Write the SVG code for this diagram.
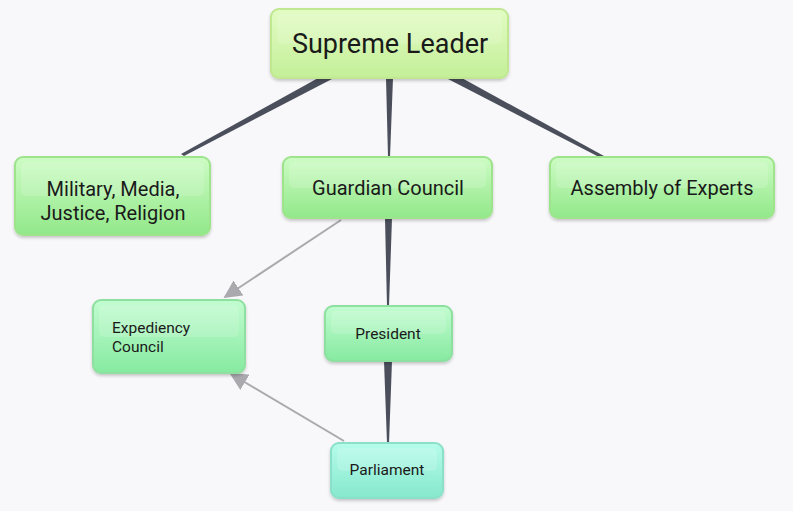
<svg xmlns="http://www.w3.org/2000/svg" width="793" height="511" viewBox="0 0 793 511">
<defs>
<style>
text{font-family:Roboto,"Liberation Sans",sans-serif;fill:#1a1a1a}
.n{stroke-width:2;filter:url(#sh)}
.g{fill:url(#gG);stroke:#9ee48c}
.sl{fill:url(#gS);stroke:#bfe890}
.m{fill:url(#gM);stroke:#8ee0a0}
.c{fill:url(#gC);stroke:#8ae0c8}
.hl{fill:#ffffff;opacity:0.15}
.w{fill:#4b4f5c}
.a{stroke:#a9a9ae;stroke-width:2;fill:none}
</style>
<linearGradient id="gS" x1="0" y1="0" x2="0" y2="1"><stop offset="0" stop-color="#e2fcc4"/><stop offset="1" stop-color="#c4ef98"/></linearGradient>
<linearGradient id="gG" x1="0" y1="0" x2="0" y2="1"><stop offset="0" stop-color="#cdfcc4"/><stop offset="1" stop-color="#92e88a"/></linearGradient>
<linearGradient id="gM" x1="0" y1="0" x2="0" y2="1"><stop offset="0" stop-color="#c2fcd0"/><stop offset="1" stop-color="#86eaa0"/></linearGradient>
<linearGradient id="gC" x1="0" y1="0" x2="0" y2="1"><stop offset="0" stop-color="#b6fceb"/><stop offset="1" stop-color="#86e8cd"/></linearGradient>
<filter id="sh" x="-10%" y="-10%" width="120%" height="130%"><feDropShadow dx="0" dy="2" stdDeviation="1.5" flood-color="#000" flood-opacity="0.2"/></filter>
<marker id="ar2" viewBox="0 0 10 10" refX="9" refY="5" markerWidth="18" markerHeight="18" markerUnits="userSpaceOnUse" orient="auto"><path d="M0,0 L10,5 L0,10 z" fill="#a9a9ae"/></marker>
</defs>
<rect width="793" height="511" fill="#f8f8fa"/>
<g id="connectors">
<polygon class="w" points="320,77 332,79 184,156 181,154"/>
<polygon class="w" points="386,78 393,78 390,157 388,157"/>
<polygon class="w" points="448,79 460,77 604,156 601,158"/>
<polygon class="w" points="385,218 392,218 389,306 387,306"/>
<polygon class="w" points="384,361 392,361 389,443 387,443"/>
<line class="a" x1="341" y1="220" x2="225" y2="297" marker-end="url(#ar2)"/>
<line class="a" x1="344" y1="441" x2="231" y2="374" marker-end="url(#ar2)"/>
</g>
<g id="supreme-leader">
<rect class="n sl" x="271" y="9" width="237" height="69" rx="8"/>
<rect class="hl" x="277" y="14" width="225" height="30" rx="5"/>
<text x="390" y="53" font-size="27" text-anchor="middle">Supreme Leader</text>
</g>
<g id="military">
<rect class="n g" x="15" y="157" width="195" height="78" rx="8"/>
<rect class="hl" x="21" y="162" width="183" height="34" rx="5"/>
<text x="113" y="196" font-size="20" text-anchor="middle">Military, Media,</text>
<text x="113" y="220" font-size="20" text-anchor="middle">Justice, Religion</text>
</g>
<g id="guardian-council">
<rect class="n g" x="283" y="157" width="209" height="61" rx="8"/>
<rect class="hl" x="289" y="162" width="197" height="26" rx="5"/>
<text x="388" y="195" font-size="20" text-anchor="middle">Guardian Council</text>
</g>
<g id="assembly-of-experts">
<rect class="n g" x="550" y="157" width="224" height="61" rx="8"/>
<rect class="hl" x="556" y="162" width="212" height="26" rx="5"/>
<text x="662" y="195" font-size="20" text-anchor="middle">Assembly of Experts</text>
</g>
<g id="expediency-council">
<rect class="n m" x="93" y="300" width="152" height="73" rx="8"/>
<rect class="hl" x="99" y="305" width="140" height="32" rx="5"/>
<text x="112" y="333" font-size="15.5">Expediency</text>
<text x="112" y="352" font-size="15.5">Council</text>
</g>
<g id="president">
<rect class="n m" x="325" y="306" width="127" height="55" rx="8"/>
<rect class="hl" x="331" y="311" width="115" height="23" rx="5"/>
<text x="388" y="339" font-size="15.5" text-anchor="middle">President</text>
</g>
<g id="parliament">
<rect class="n c" x="331" y="443" width="112" height="55" rx="8"/>
<rect class="hl" x="337" y="448" width="100" height="23" rx="5"/>
<text x="387" y="475" font-size="15.5" text-anchor="middle">Parliament</text>
</g>
</svg>
